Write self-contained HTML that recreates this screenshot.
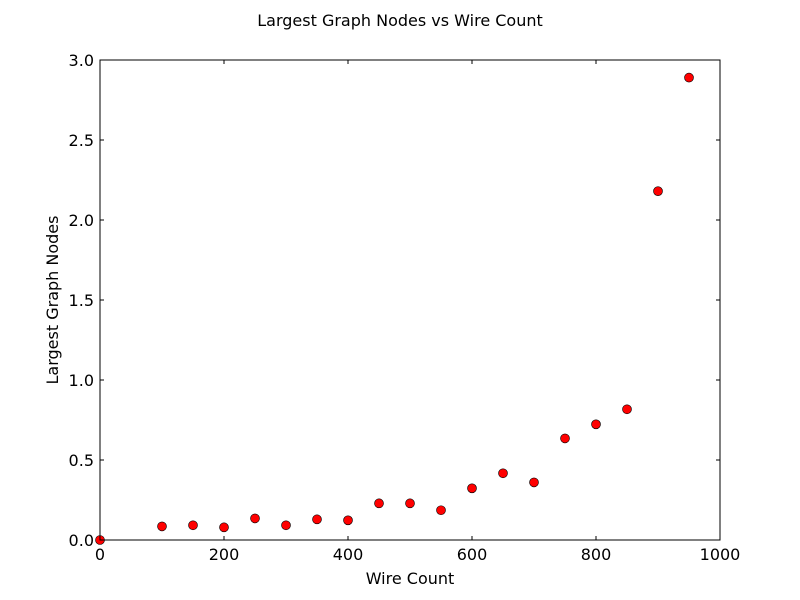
<!DOCTYPE html>
<html><head><meta charset="utf-8"><style>body{margin:0;background:#fff}svg{display:block}text{font-family:"DejaVu Sans","Liberation Sans",sans-serif;fill:#000}</style></head>
<body>
<svg id="chart" width="800" height="600" xmlns="http://www.w3.org/2000/svg">
<rect width="800" height="600" fill="#fff"/>
<text x="400" y="26" text-anchor="middle" font-size="16">Largest Graph Nodes vs Wire Count</text>
<text x="410" y="584" text-anchor="middle" font-size="16">Wire Count</text>
<text transform="translate(58,300) rotate(-90)" text-anchor="middle" font-size="16">Largest Graph Nodes</text>
<g id="ticks"></g>
<g id="points"></g>
<rect x="100" y="60" width="620" height="480" fill="none" stroke="#000" stroke-width="1"/>
</svg>
<script>
const wireCounts=[0,100,150,200,250,300,350,400,450,500,550,600,650,700,750,800,850,900,950];
const nodeValues=[0,0.085,0.092,0.079,0.135,0.092,0.129,0.123,0.229,0.229,0.186,0.323,0.417,0.36,0.635,0.723,0.817,2.18,2.89];
const xTicks=[0,200,400,600,800,1000];
const yTicks=[0,0.5,1.0,1.5,2.0,2.5,3.0];
const yTickLabels=["0.0","0.5","1.0","1.5","2.0","2.5","3.0"];
const NS="http://www.w3.org/2000/svg";
const X=v=>100+v/1000*620, Y=v=>540-v/3*480;
const tg=document.getElementById('ticks'), pg=document.getElementById('points');
function mk(tag,attrs,parent){const e=document.createElementNS(NS,tag);for(const k in attrs)e.setAttribute(k,attrs[k]);parent.appendChild(e);return e;}
xTicks.forEach(t=>{const x=X(t);
 const a=mk('line',{x1:x,x2:x,y1:540,y2:536,stroke:'#000'},tg);
 
 
 const b=mk('line',{x1:x,x2:x,y1:60,y2:64,stroke:'#000'},tg);
 
 
 const l=mk('text',{x:x,y:560,'text-anchor':'middle','font-size':16},tg);l.textContent=t;
 
 
});
yTicks.forEach((t,i)=>{const y=Y(t);
 const a=mk('line',{x1:100,x2:104,y1:y,y2:y,stroke:'#000'},tg);
 
 
 const b=mk('line',{x1:716,x2:720,y1:y,y2:y,stroke:'#000'},tg);
 
 
 const l=mk('text',{x:94,y:y+6,'text-anchor':'end','font-size':16},tg);l.textContent=yTickLabels[i];
 
 
});
wireCounts.forEach((w,i)=>{
 const c=mk('circle',{cx:X(w),cy:Y(nodeValues[i]),r:4.5,fill:'#ff0000',stroke:'#000','stroke-width':0.6},pg);
 
 
});
</script>
</body></html>
